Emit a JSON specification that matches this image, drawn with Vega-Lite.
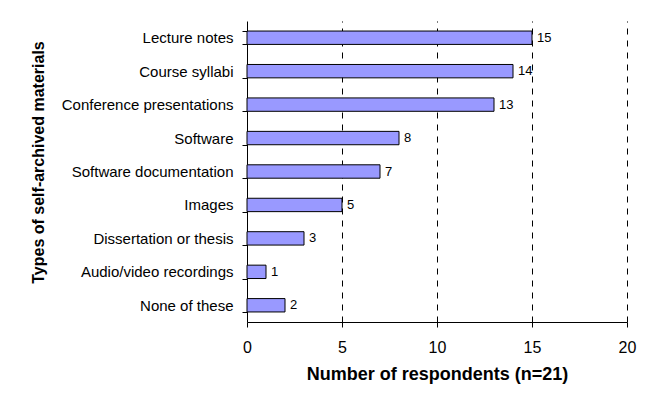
{
  "$schema": "https://vega.github.io/schema/vega-lite/v6.json",
  "width": 380,
  "height": 301,
  "autosize": {"type": "none"},
  "padding": {"left": 247, "top": 21, "right": 22, "bottom": 81},
  "background": "white",
  "config": {
    "view": {"stroke": null},
    "font": "Liberation Sans",
    "axis": {"labelFont": "Liberation Sans", "titleFont": "Liberation Sans", "domainColor": "black", "tickColor": "black", "labelColor": "black", "titleColor": "black"}
  },
  "data": {
    "values": [
      {"material": "Lecture notes", "count": 15},
      {"material": "Course syllabi", "count": 14},
      {"material": "Conference presentations", "count": 13},
      {"material": "Software", "count": 8},
      {"material": "Software documentation", "count": 7},
      {"material": "Images", "count": 5},
      {"material": "Dissertation or thesis", "count": 3},
      {"material": "Audio/video recordings", "count": 1},
      {"material": "None of these", "count": 2}
    ]
  },
  "encoding": {
    "y": {
      "field": "material",
      "type": "nominal",
      "sort": null,
      "scale": {"paddingInner": 0.6, "paddingOuter": 0.3},
      "axis": {
        "title": "Types of self-archived materials",
        "titleFontSize": 16,
        "titleFontWeight": "bold",
        "titleAngle": -90,
        "titleBaseline": "middle",
        "titleAlign": "center",
        "titleX": -209,
        "titleY": 141,
        "labelFontSize": 15,
        "labelPadding": 9,
        "tickBand": "extent",
        "tickSize": 5,
        "domainWidth": 1
      }
    },
    "x": {
      "field": "count",
      "type": "quantitative",
      "scale": {"domain": [0, 20]},
      "axis": {
        "title": "Number of respondents (n=21)",
        "titleFontSize": 18,
        "titleFontWeight": "bold",
        "titlePadding": 10,
        "values": [0, 5, 10, 15, 20],
        "labelFontSize": 16,
        "labelPadding": 12,
        "labelFlush": false,
        "tickSize": 5,
        "grid": true,
        "gridColor": "black",
        "gridDash": [6, 6],
        "gridOpacity": {"condition": {"test": "datum.value === 0", "value": 0}, "value": 1}
      }
    }
  },
  "layer": [
    {
      "mark": {"type": "bar", "fill": "#9999ff", "stroke": "black", "strokeWidth": 1}
    },
    {
      "mark": {"type": "text", "align": "left", "baseline": "middle", "dx": 5, "fontSize": 13, "color": "black"},
      "encoding": {"text": {"field": "count", "type": "quantitative"}}
    }
  ]
}
